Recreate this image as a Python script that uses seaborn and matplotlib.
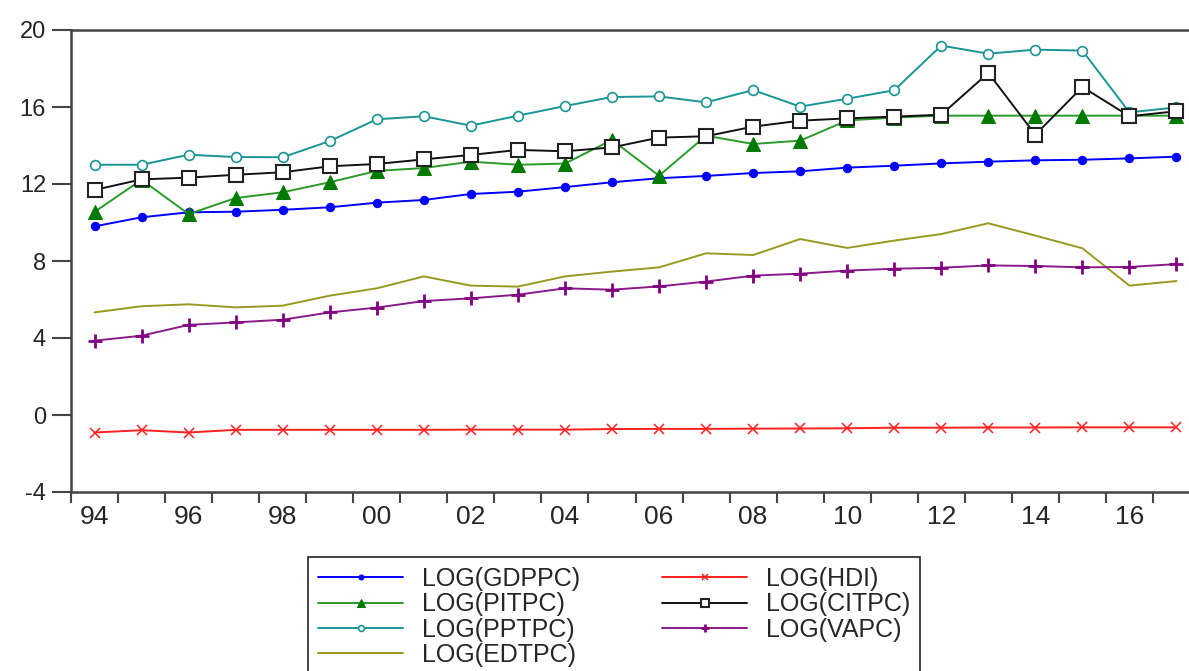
import matplotlib
matplotlib.use('Agg')
import matplotlib.pyplot as plt
from matplotlib.ticker import FixedLocator, NullFormatter
import pandas as pd
import seaborn as sns

# Annual data 1994-2017 (log values)
years = list(range(1994, 2018))

gdppc = [9.80, 10.27, 10.53, 10.56, 10.66, 10.79, 11.03, 11.17, 11.48, 11.60, 11.84, 12.09,
         12.30, 12.42, 12.57, 12.66, 12.85, 12.95, 13.07, 13.16, 13.23, 13.26, 13.33, 13.42]
hdi = [-0.91, -0.79, -0.91, -0.77, -0.77, -0.77, -0.77, -0.77, -0.76, -0.76, -0.76, -0.73,
       -0.72, -0.72, -0.71, -0.70, -0.69, -0.66, -0.66, -0.65, -0.65, -0.64, -0.64, -0.64]
pitpc = [10.55, 12.22, 10.44, 11.27, 11.57, 12.09, 12.68, 12.83, 13.16, 13.00, 13.06, 14.29,
         12.43, 14.51, 14.08, 14.25, 15.30, 15.45, 15.55, 15.55, 15.55, 15.55, 15.55, 15.55]
citpc = [11.69, 12.24, 12.33, 12.48, 12.61, 12.92, 13.04, 13.28, 13.51, 13.77, 13.70, 13.90,
         14.41, 14.48, 14.98, 15.29, 15.41, 15.50, 15.60, 17.77, 14.56, 17.04, 15.52, 15.78]
pptpc = [13.00, 13.00, 13.52, 13.40, 13.39, 14.23, 15.36, 15.52, 15.03, 15.55, 16.05, 16.52,
         16.55, 16.24, 16.88, 16.02, 16.43, 16.87, 19.19, 18.77, 18.98, 18.93, 15.72, 15.98]
vapc = [3.86, 4.12, 4.68, 4.81, 4.95, 5.33, 5.58, 5.92, 6.06, 6.25, 6.58, 6.51,
        6.68, 6.93, 7.24, 7.34, 7.50, 7.60, 7.65, 7.77, 7.74, 7.67, 7.69, 7.84]
edtpc = [5.33, 5.65, 5.75, 5.59, 5.68, 6.20, 6.58, 7.20, 6.72, 6.67, 7.20, 7.45,
         7.67, 8.40, 8.31, 9.14, 8.68, 9.06, 9.40, 9.96, 9.32, 8.66, 6.72, 6.96]

year_labels = ['94', '96', '98', '00', '02', '04', '06', '08', '10', '12', '14', '16']

df = pd.DataFrame({'year': years, 'LOG(GDPPC)': gdppc, 'LOG(HDI)': hdi,
                   'LOG(PITPC)': pitpc, 'LOG(CITPC)': citpc, 'LOG(PPTPC)': pptpc,
                   'LOG(VAPC)': vapc, 'LOG(EDTPC)': edtpc})

sns.set_style('ticks')
plt.rcParams['font.family'] = ['Liberation Sans', 'DejaVu Sans']
plt.rcParams['axes.unicode_minus'] = False

fig = plt.figure(figsize=(11.89, 6.71), dpi=100)
ax = fig.add_axes([71 / 1189, 179 / 671, 1129 / 1189, 462 / 671])

# series styles (legend order: first column then second column)
styles = [
    ('LOG(GDPPC)', dict(color='#0000ff', marker='o', markersize=6, markerfacecolor='#0000ff',
                        markeredgecolor='#0000ff')),
    ('LOG(PITPC)', dict(color='#2a9a2a', marker='^', markersize=10, markerfacecolor='#007a00',
                        markeredgecolor='#007a00')),
    ('LOG(PPTPC)', dict(color='#1a9595', marker='o', markersize=7, markerfacecolor='white',
                        markeredgecolor='#1a9595', markeredgewidth=1.2)),
    ('LOG(EDTPC)', dict(color='#999922', marker=None)),
    ('LOG(HDI)', dict(color='#ff2020', marker='x', markersize=7, markeredgewidth=1.1,
                      markeredgecolor='#ff2020')),
    ('LOG(CITPC)', dict(color='#111111', marker='s', markersize=10, markerfacecolor='white',
                        markeredgecolor='#222222', markeredgewidth=1.5)),
    ('LOG(VAPC)', dict(color='#8a1a8a', marker='+', markersize=10, markeredgewidth=2.0,
                       markeredgecolor='#800080')),
]

for name, kw in styles:
    sns.lineplot(data=df, x='year', y=name, ax=ax, label=name, linewidth=1.4, **kw)

ax.set_xlim(1993.5, 2017.5)
ax.set_ylim(-4, 20)
ax.set_yticks([-4, 0, 4, 8, 12, 16, 20])
ax.set_xlabel('')
ax.set_ylabel('')

# year boundary ticks, labels centred on even years
ax.xaxis.set_major_locator(FixedLocator([y - 0.5 for y in range(1994, 2019)]))
ax.xaxis.set_major_formatter(NullFormatter())
ax.xaxis.set_minor_locator(FixedLocator(list(range(1994, 2017, 2))))
ax.set_xticklabels(year_labels, minor=True)
ax.tick_params(axis='x', which='major', length=8, width=1.5, color='#444444', direction='out')
ax.tick_params(axis='x', which='minor', length=0, pad=9, labelsize=19)
ax.tick_params(axis='y', length=14, width=1.5, color='#444444', direction='out', pad=4,
               labelsize=17)

for side in ['left', 'bottom', 'top']:
    ax.spines[side].set_color('#444444')
    ax.spines[side].set_linewidth(1.8)
ax.spines['right'].set_visible(False)

leg = ax.legend(loc='upper left', bbox_to_anchor=(308 / 1189, 1 - 557 / 671),
                bbox_transform=fig.transFigure, ncol=2, fontsize=18, frameon=True,
                fancybox=False, edgecolor='#222222', framealpha=1, borderpad=0.4,
                handlelength=3.4, handletextpad=0.75, columnspacing=3.3,
                labelspacing=0.05, borderaxespad=0, markerscale=0.6)
leg.get_frame().set_linewidth(1.2)

plt.savefig('out.png', dpi=100)
